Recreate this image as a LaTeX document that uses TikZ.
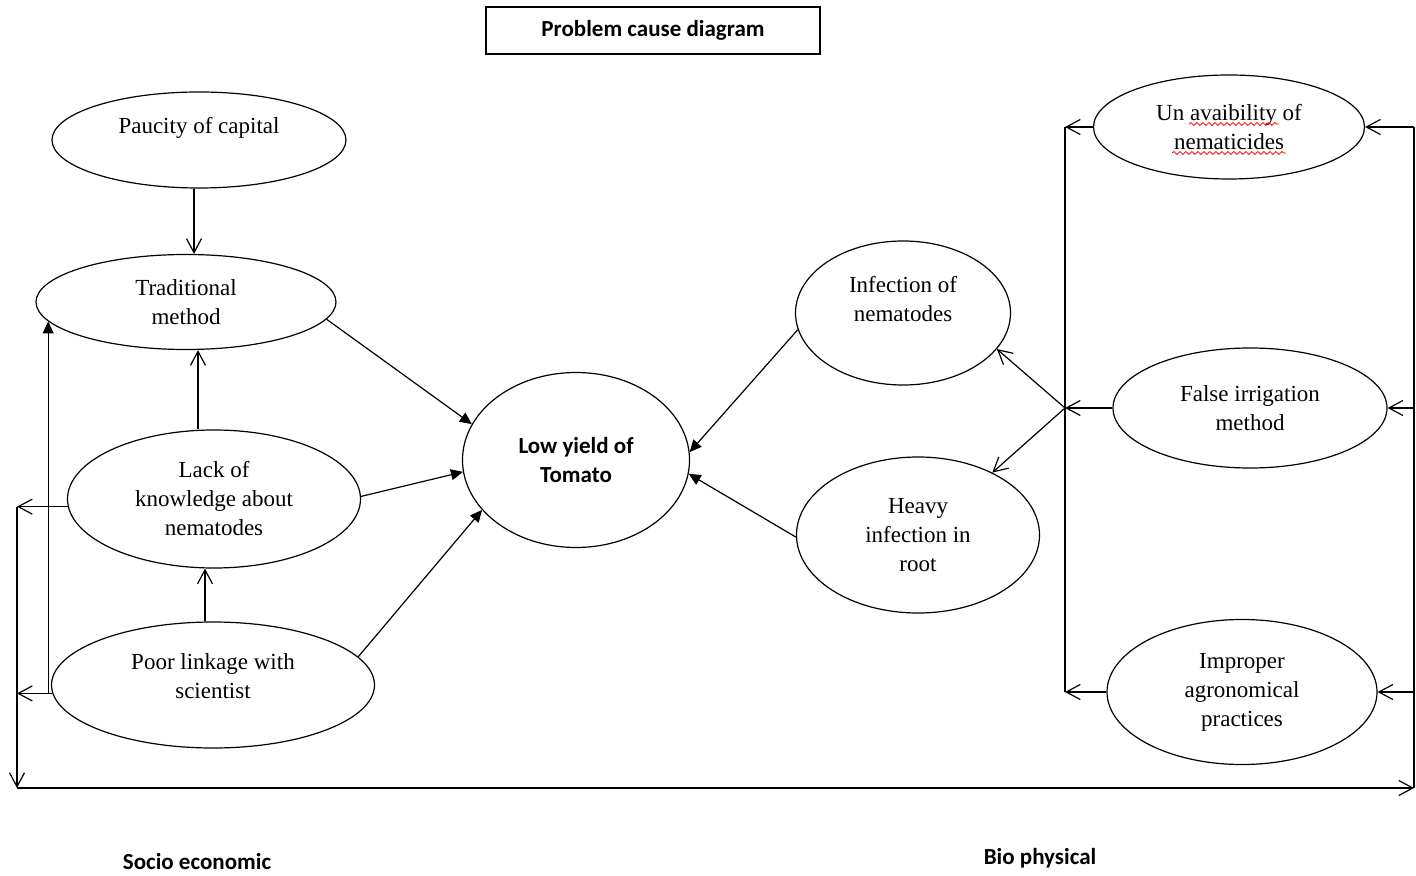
\documentclass[tikz,border=0pt]{standalone}
\usepackage{fontspec}
\setmainfont{Liberation Serif}
\newfontfamily\calibrifont{Carlito}
\usetikzlibrary{arrows.meta, shapes.geometric, decorations.pathmorphing}

\begin{document}
\begin{tikzpicture}[x=0.5pt, y=-0.5pt, line width=0.6pt,
    every node/.style={font=\fontsize{11.5}{14.5}\selectfont},
    cause/.style={draw, ellipse, inner sep=0pt, align=center},
    heading/.style={font=\calibrifont\bfseries\fontsize{11.5}{14.5}\selectfont, align=center},
    opn/.style={-{Straight Barb[length=7pt,width=7.5pt]}},
    fil/.style={-{Triangle[length=6pt,width=5.5pt]}}]
      \useasboundingbox (0,0) rectangle (1416,876);

      % Title and side labels
      \node[heading, draw, minimum width=167pt, minimum height=23.5pt] (title) at (653,30.5) {Problem cause diagram};
      \node[heading] (socio) at (197,862) {Socio economic};
      \node[heading] (bio) at (1040,858) {Bio physical};

      % Socio economic causes
      \node[cause, minimum width=147pt, minimum height=48pt] (paucity) at (199,140) {Paucity of capital\\ \mbox{}};
      \node[cause, minimum width=150pt, minimum height=47.5pt] (trad) at (186,302) {Traditional\\method};
      \node[cause, minimum width=146.5pt, minimum height=69pt] (lack) at (214,499) {Lack of\\knowledge about\\nematodes};
      \node[cause, minimum width=161.5pt, minimum height=63pt] (poor) at (213,685) {Poor linkage with\\scientist\\[-6pt] \mbox{}};

      % Problem
      \node[cause, heading, minimum width=113.5pt, minimum height=87.5pt] (low) at (576,460) {Low yield of\\Tomato};

      % Bio physical causes
      \node[cause, minimum width=107.5pt, minimum height=72pt] (infect) at (903,313) {Infection of\\nematodes\\ \mbox{}};
      \node[cause, minimum width=121.5pt, minimum height=78pt] (heavy) at (918,535) {Heavy\\infection in\\root};
      \node[cause, minimum width=135.5pt, minimum height=52pt] (unavail) at (1229,127) {Un avaibility of\\nematicides};
      \node[cause, minimum width=137pt, minimum height=60pt] (false) at (1250,408) {False irrigation\\method};
      \node[cause, minimum width=135pt, minimum height=72.5pt] (improper) at (1242,692) {Improper\\agronomical\\practices};

      % Frame points
      \coordinate (bl) at (17,788);
      \coordinate (br) at (1414,788);
      \coordinate (mbar) at (1065,0);

      % Left side
      \draw[opn] ([xshift=-2.5pt]paucity.south) -- ([xshift=-2.5pt]paucity.south |- trad.north);
      \draw[opn] ([xshift=-8pt]lack.north) -- ([xshift=-8pt]lack.north |- trad.south);
      \draw[opn] ([xshift=-4pt]poor.north) -- ([xshift=-4pt]poor.north |- lack.south);
      \draw[fil] (trad.-7) -- (low.161);
      \draw[fil] (lack.1) -- (low.186);
      \draw[fil] (poor.11) -- (low.208);
      \draw[fil] (trad.188.4 |- poor.183) -- (trad.188.4);
      \draw[opn] (lack.183) -- (lack.183 -| bl);
      \draw[opn] (poor.183) -- (poor.183 -| bl);
      \draw[opn] (lack.183 -| bl) -- (bl);

      % Bottom and right side
      \draw[opn] (bl) -- (br);
      \draw (br) -- (br |- unavail.east);
      \draw[opn] (br |- unavail.east) -- (unavail.east);
      \draw[opn] (br |- false.east) -- (false.east);
      \draw[opn] (br |- improper.east) -- (improper.east);

      % Middle bar
      \draw (unavail.west -| mbar) -- (improper.west -| mbar);
      \draw[opn] (unavail.west) -- (unavail.west -| mbar);
      \draw[opn] (false.west) -- (false.west -| mbar);
      \draw[opn] (improper.west) -- (improper.west -| mbar);
      \draw[opn] (false.west -| mbar) -- (infect.-21);
      \draw[opn] (false.west -| mbar) -- (heavy.40);
      \draw[fil] (infect.189) -- (low.4);
      \draw[fil] (heavy.181) -- (low.-7);

      % Spelling marks
      \draw[red, line width=0.4pt, decorate, decoration={snake, segment length=3pt, amplitude=0.7pt}] (1189,124) -- (1279,124);
      \draw[red, line width=0.4pt, decorate, decoration={snake, segment length=3pt, amplitude=0.7pt}] (1172,153) -- (1286,153);
\end{tikzpicture}
\end{document}
